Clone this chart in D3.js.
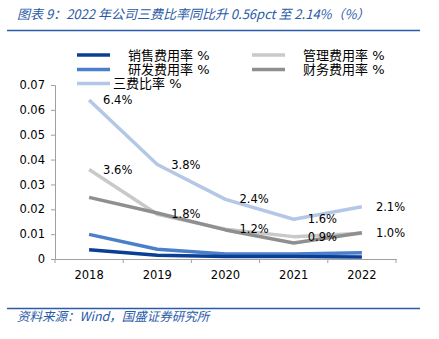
<!DOCTYPE html>
<html>
<head>
<meta charset="utf-8">
<script src="https://cdn.jsdelivr.net/npm/d3@7"></script>
<style>
  body { margin: 0; background: #fff; }
  svg text { font-family: "DejaVu Sans", "Noto Sans CJK SC", sans-serif; }
  svg text.cap { font-family: "Noto Sans CJK SC", sans-serif; }
</style>
</head>
<body>
<div id="chart"></div>
<script>
var svgWidth = 439;
var svgHeight = 339;

// data
var years = ["2018", "2019", "2020", "2021", "2022"];
var xiaoshou = [0.0037, 0.0015, 0.0010, 0.0010, 0.0008];  // 销售费用率
var yanfa = [0.0099, 0.0039, 0.0020, 0.0020, 0.0025];     // 研发费用率
var guanli = [0.036, 0.018, 0.012, 0.009, 0.0104];        // 管理费用率
var caiwu = [0.0248, 0.0185, 0.0117, 0.0064, 0.0106];     // 财务费用率
var sanfei = [0.064, 0.038, 0.024, 0.016, 0.021];         // 三费比率
var yTicks = [0, 0.01, 0.02, 0.03, 0.04, 0.05, 0.06, 0.07];

var series = [
  { name: "三费比率 %", values: sanfei, color: "#b4c7e7", labels: true },
  { name: "管理费用率 %", values: guanli, color: "#c9c9c9", labels: true },
  { name: "财务费用率 %", values: caiwu, color: "#8f8f8f" },
  { name: "研发费用率 %", values: yanfa, color: "#4a7fcb" },
  { name: "销售费用率 %", values: xiaoshou, color: "#0b3f94" }
];

var plot = { left: 55, right: 396, top: 85, bottom: 259 };

var svg = d3.select("#chart").append("svg")
  .attr("width", svgWidth)
  .attr("height", svgHeight);

// title + rules
svg.append("text")
  .attr("class", "cap")
  .attr("x", 17)
  .attr("y", 19)
  .attr("fill", "#2a5aa8")
  .attr("font-size", "13px")
  .attr("font-style", "italic")
  .text("图表 9：2022 年公司三费比率同比升 0.56pct 至 2.14%（%）");

svg.append("line")
  .attr("x1", 7).attr("x2", 420)
  .attr("y1", 30.5).attr("y2", 30.5)
  .attr("stroke", "#2a5aa8").attr("stroke-width", 1.5);

svg.append("line")
  .attr("x1", 7).attr("x2", 420)
  .attr("y1", 308.5).attr("y2", 308.5)
  .attr("stroke", "#2a5aa8").attr("stroke-width", 1.5);

svg.append("text")
  .attr("class", "cap")
  .attr("x", 17)
  .attr("y", 321)
  .attr("fill", "#2a5aa8")
  .attr("font-size", "12.5px")
  .attr("font-style", "italic")
  .text("资料来源：Wind，国盛证券研究所");

// scales
var x = d3.scaleBand()
  .domain(years)
  .range([plot.left, plot.right]);

var y = d3.scaleLinear()
  .domain([0, 0.07])
  .range([plot.bottom, plot.top]);

// y axis
var yAxis = svg.append("g")
  .attr("transform", `translate(${plot.left}, 0)`)
  .call(d3.axisLeft(y).tickValues(yTicks).tickSize(4)
    .tickFormat(d => d === 0 ? "0" : d.toFixed(2)));
yAxis.select(".domain").attr("stroke", "#a0a0a0");
yAxis.selectAll(".tick line").attr("stroke", "#a0a0a0");
yAxis.selectAll("text")
  .attr("font-size", "11.5px")
  .attr("fill", "#000")
  .attr("x", -10);

// x axis
var xAxis = svg.append("g")
  .attr("transform", `translate(0, ${plot.bottom})`)
  .call(d3.axisBottom(x).tickSize(0).tickSizeOuter(0));
xAxis.select(".domain").attr("stroke", "#a0a0a0");
xAxis.selectAll("text")
  .attr("font-size", "11.5px")
  .attr("fill", "#000")
  .attr("dy", "1.45em");

// tick marks between categories
xAxis.selectAll(".sep")
  .data(years.concat(["end"]))
  .enter()
  .append("line")
  .attr("x1", (d, i) => plot.left + i * x.bandwidth())
  .attr("x2", (d, i) => plot.left + i * x.bandwidth())
  .attr("y1", 0)
  .attr("y2", 4)
  .attr("stroke", "#a0a0a0");

// lines
var line = d3.line()
  .x((d, i) => x(years[i]) + x.bandwidth() / 2)
  .y(d => y(d));

svg.append("g").selectAll("path")
  .data(series)
  .enter()
  .append("path")
  .attr("d", d => line(d.values))
  .attr("fill", "none")
  .attr("stroke", d => d.color)
  .attr("stroke-width", 3.5)
  .attr("stroke-linejoin", "round");

// data labels
series.filter(s => s.labels).forEach(function(s) {
  svg.append("g").selectAll("text")
    .data(s.values)
    .enter()
    .append("text")
    .attr("x", (d, i) => x(years[i]) + x.bandwidth() / 2 + 14)
    .attr("y", d => y(d))
    .attr("dy", "0.36em")
    .attr("font-size", "11.5px")
    .attr("fill", "#000")
    .text(d => (d * 100).toFixed(1) + "%");
});

// legend
var legendItems = [
  { s: series[4], lx: 77, tx: 128, y: 55 },
  { s: series[3], lx: 77, tx: 128, y: 69.5 },
  { s: series[0], lx: 77, tx: 113, y: 83.5 },
  { s: series[1], lx: 252, tx: 303, y: 55 },
  { s: series[2], lx: 252, tx: 303, y: 69.5 }
];

var legend = svg.append("g").selectAll("g")
  .data(legendItems)
  .enter()
  .append("g");

legend.append("line")
  .attr("x1", d => d.lx)
  .attr("x2", d => d.lx + 33)
  .attr("y1", d => d.y)
  .attr("y2", d => d.y)
  .attr("stroke", d => d.s.color)
  .attr("stroke-width", 3.5);

legend.append("text")
  .attr("x", d => d.tx)
  .attr("y", d => d.y)
  .attr("dy", "0.36em")
  .attr("font-size", "13px")
  .attr("fill", "#000")
  .text(d => d.s.name);
</script>
</body>
</html>
